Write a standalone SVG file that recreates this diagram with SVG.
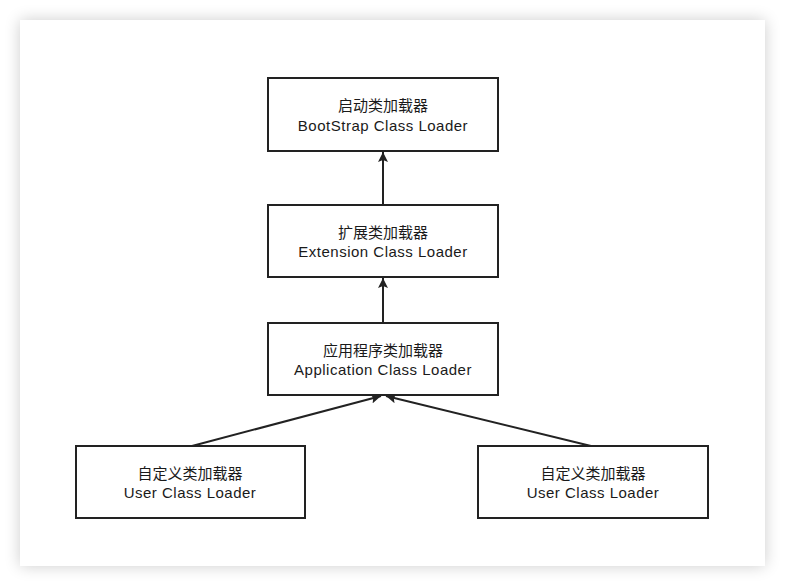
<svg xmlns="http://www.w3.org/2000/svg" width="785" height="586" viewBox="0 0 785 586">
<defs>
<filter id="sh" x="-10%" y="-10%" width="120%" height="120%">
<feGaussianBlur in="SourceAlpha" stdDeviation="8"/>
<feComponentTransfer><feFuncA type="linear" slope="0.2"/></feComponentTransfer>
<feMerge><feMergeNode/><feMergeNode in="SourceGraphic"/></feMerge>
</filter>
<marker id="ah" viewBox="0 0 10 10" refX="10" refY="5" markerWidth="10" markerHeight="10" markerUnits="userSpaceOnUse" orient="auto">
<path d="M0,0 L10,5 L0,10 L2,5 Z" fill="#222"/>
</marker>
<style>
.box{fill:#fff;stroke:#222;stroke-width:2}
.t{font-family:"Liberation Sans","Noto Sans CJK SC",sans-serif;font-size:15px;fill:#1a1a1a;text-anchor:middle}
.e{letter-spacing:0.5px}
.c{stroke:#222;stroke-width:2;fill:none;marker-end:url(#ah)}
</style>
</defs>
<rect width="785" height="586" fill="#fff"/>
<rect x="20" y="20" width="745" height="546" fill="#fff" filter="url(#sh)"/>
<g id="connectors">
<line class="c" x1="383" y1="205" x2="383" y2="152"/>
<line class="c" x1="383" y1="323" x2="383" y2="278"/>
<line class="c" x1="192" y1="446" x2="381" y2="396"/>
<line class="c" x1="591" y1="446" x2="386" y2="396"/>
</g>
<g id="bootstrap">
<rect class="box" x="268" y="78" width="230" height="73"/>
<text class="t" x="383" y="111">启动类加载器</text>
<text class="t e" x="383" y="131">BootStrap Class Loader</text>
</g>
<g id="extension">
<rect class="box" x="268" y="205" width="230" height="72"/>
<text class="t" x="383" y="238">扩展类加载器</text>
<text class="t e" x="383" y="257">Extension Class Loader</text>
</g>
<g id="application">
<rect class="box" x="268" y="323" width="230" height="72"/>
<text class="t" x="383" y="356">应用程序类加载器</text>
<text class="t e" x="383" y="375">Application Class Loader</text>
</g>
<g id="user1">
<rect class="box" x="76" y="446" width="229" height="72"/>
<text class="t" x="190" y="479">自定义类加载器</text>
<text class="t e" x="190" y="498">User Class Loader</text>
</g>
<g id="user2">
<rect class="box" x="478" y="446" width="230" height="72"/>
<text class="t" x="593" y="479">自定义类加载器</text>
<text class="t e" x="593" y="498">User Class Loader</text>
</g>
</svg>
